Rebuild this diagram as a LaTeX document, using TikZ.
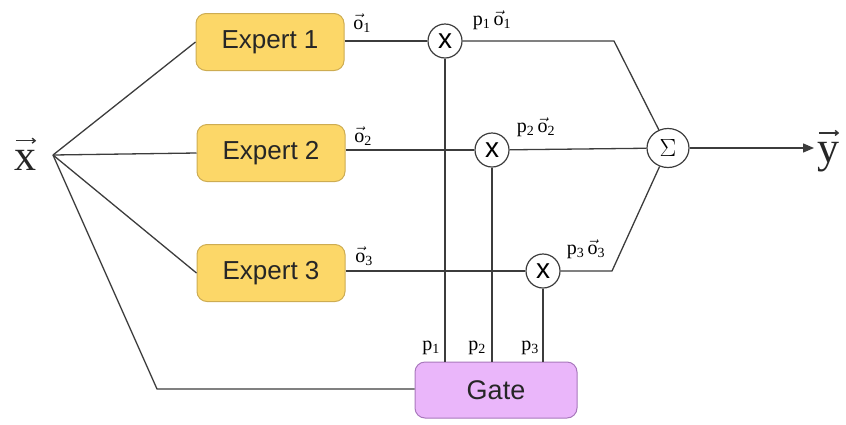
\documentclass[tikz,border=0pt]{standalone}
\usepackage{fontspec}
\setmainfont{Liberation Serif}
\newfontfamily\arialf{Liberation Sans}
\usetikzlibrary{arrows.meta,shapes.geometric}
\definecolor{expfill}{RGB}{252,215,104}
\definecolor{expdraw}{RGB}{205,172,82}
\definecolor{gatefill}{RGB}{234,182,250}
\definecolor{gatedraw}{RGB}{168,120,188}
\definecolor{wire}{RGB}{60,60,60}
\tikzset{
  expertbox/.style={draw=expdraw, fill=expfill, line width=1pt, rounded corners=10pt,
    minimum width=148pt, minimum height=57pt, inner sep=0pt,
    font=\arialf\fontsize{26}{30}\selectfont, text=black!85},
  gatebox/.style={draw=gatedraw, fill=gatefill, line width=1pt, rounded corners=10pt,
    minimum width=162pt, minimum height=56pt, inner sep=0pt,
    font=\arialf\fontsize{27}{30}\selectfont, text=black!85},
  multnode/.style={circle, draw=wire, fill=white, line width=1.2pt, minimum size=34pt, inner sep=0pt,
    font=\arialf\fontsize{28}{28}\selectfont},
  sumnode/.style={ellipse, draw=wire, fill=white, line width=1.2pt, minimum width=42pt, minimum height=39pt, inner sep=0pt,
    font=\fontsize{30}{30}\selectfont},
  wirel/.style={draw=wire, line width=1.3pt},
  vecarrow/.style={draw=black!80, line width=1.4pt, -{Straight Barb[length=3pt,width=5pt]}},
  lbl/.style={inner sep=0pt, font=\fontsize{20}{22}\selectfont},
  biglbl/.style={inner sep=0pt, font=\fontsize{44}{48}\selectfont, text=black!85},
}
\begin{document}
\begin{tikzpicture}[x=1pt,y=-1pt]
\useasboundingbox (0,0) rectangle (846,424);
% nodes
\node[biglbl] (xl) at (25,160) {x};
\coordinate (xs) at (53,155);
\node[expertbox] (e1) at (270,42) {Expert 1};
\node[expertbox] (e2) at (271,153) {Expert 2};
\node[expertbox] (e3) at (271,273) {Expert 3};
\node[gatebox] (g) at (496,390) {Gate};
\node[multnode] (m1) at (445,41) {x};
\node[multnode] (m2) at (492,150) {x};
\node[multnode] (m3) at (543,271) {x};
\node[sumnode] (s) at (668,148) {$\Sigma$};
\node[biglbl] (yl) at (828,157) {y};
\coordinate (c1) at (614,41);
\coordinate (c3) at (612,271);
\coordinate (cg) at (157,389);
\coordinate (ye) at (814,148);
% vector arrows over x and y
\draw[vecarrow] ([shift={(2,-9)}]xl.north west) -- ([shift={(0,-9)}]xl.north east);
\draw[vecarrow] ([shift={(2,-9)}]yl.north west) -- ([shift={(0,-9)}]yl.north east);
% connectors from x
\draw[wirel] (xs) -- (e1.west);
\draw[wirel] (xs) -- (e2.west);
\draw[wirel] (xs) -- (e3.west);
\draw[wirel] (xs) -- (cg) -- (g.west |- cg);
% expert outputs
\draw[wirel] (e1.east |- m1) -- (m1);
\draw[wirel] (e2.east |- m2) -- (m2);
\draw[wirel] (e3.east |- m3) -- (m3);
% gate outputs
\draw[wirel] (g.north -| m1) -- (m1);
\draw[wirel] (g.north -| m2) -- (m2);
\draw[wirel] (g.north -| m3) -- (m3);
% to sum
\draw[wirel] (m1) -- (c1) -- (s);
\draw[wirel] (m2) -- (s);
\draw[wirel] (m3) -- (c3) -- (s);
\draw[wirel, -{Triangle[length=11pt,width=9pt]}] (s) -- (ye);
% labels
\node[lbl] (lo1) at (362,23) {$\vec{\mathrm{o}}_{\mathrm{1}}$};
\node[lbl] (lo2) at (363,136) {$\vec{\mathrm{o}}_{\mathrm{2}}$};
\node[lbl] (lo3) at (364,256) {$\vec{\mathrm{o}}_{\mathrm{3}}$};
\node[lbl] (lp1o1) at (492,20) {$\mathrm{p}_{\mathrm{1}}\,\vec{\mathrm{o}}_{\mathrm{1}}$};
\node[lbl] (lp2o2) at (536,127) {$\mathrm{p}_{\mathrm{2}}\,\vec{\mathrm{o}}_{\mathrm{2}}$};
\node[lbl] (lp3o3) at (586,249) {$\mathrm{p}_{\mathrm{3}}\,\vec{\mathrm{o}}_{\mathrm{3}}$};
\node[lbl] (lp1) at (431,348) {$\mathrm{p}_{\mathrm{1}}$};
\node[lbl] (lp2) at (477,348) {$\mathrm{p}_{\mathrm{2}}$};
\node[lbl] (lp3) at (530,348) {$\mathrm{p}_{\mathrm{3}}$};
\end{tikzpicture}
\end{document}
